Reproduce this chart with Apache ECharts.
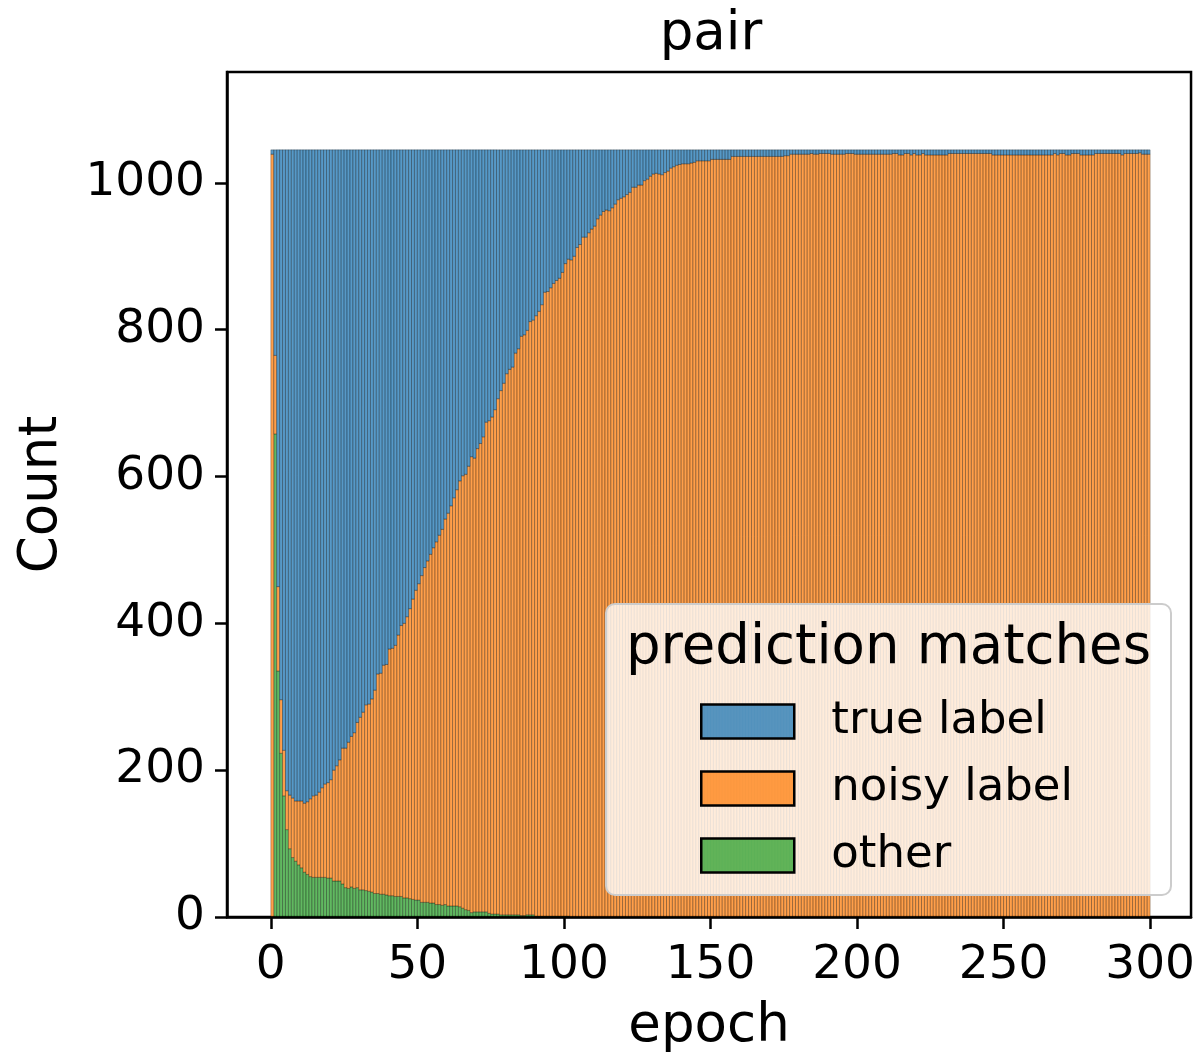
<!DOCTYPE html>
<html>
<head>
<meta charset="utf-8">
<title>pair</title>
<script src="https://cdn.jsdelivr.net/npm/echarts@6/dist/echarts.min.js"></script>
<style>
  html, body { margin: 0; padding: 0; background: #fff; }
  #chart { width: 1198px; height: 1059px; }
</style>
</head>
<body>
<div id="chart"></div>
<script>
// Per-epoch prediction counts, stacked: other (bottom), noisy label, true label (top)
const seriesNames = ['true label', 'noisy label', 'other'];
const xTicks = [0, 50, 100, 150, 200, 250, 300];
const yTicks = [0, 200, 400, 600, 800, 1000];

const other = [
  0, 658, 335, 223, 165, 119, 93, 81, 76, 71,
  67, 61, 58, 55, 54, 54, 54, 54, 54, 53,
  53, 49, 49, 49, 45, 40, 39, 41, 39, 40,
  37, 37, 36, 35, 34, 32, 32, 31, 31, 30,
  29, 29, 28, 28, 28, 26, 26, 25, 24, 23,
  23, 20, 20, 20, 19, 19, 17, 17, 16, 17,
  15, 15, 15, 15, 14, 12, 10, 9, 6, 7,
  7, 7, 7, 7, 5, 4, 4, 4, 3, 3,
  3, 3, 3, 3, 3, 2, 2, 3, 3, 3,
  1, 1, 1, 1, 1, 1, 1, 1, 1, 1,
  1, 1, 0, 0, 0, 0, 0, 0, 0, 0,
  0, 0, 0, 0, 0, 0, 0, 0, 0, 0,
  0, 0, 0, 0, 0, 0, 0, 0, 0, 0,
  0, 0, 0, 0, 0, 0, 0, 0, 0, 0,
  0, 0, 0, 0, 0, 0, 0, 0, 0, 0,
  0, 0, 0, 0, 0, 0, 0, 0, 0, 0,
  0, 0, 0, 0, 0, 0, 0, 0, 0, 0,
  0, 0, 0, 0, 0, 0, 0, 0, 0, 0,
  0, 0, 0, 0, 0, 0, 0, 0, 0, 0,
  0, 0, 0, 0, 0, 0, 0, 0, 0, 0,
  0, 0, 0, 0, 0, 0, 0, 0, 0, 0,
  0, 0, 0, 0, 0, 0, 0, 0, 0, 0,
  0, 0, 0, 0, 0, 0, 0, 0, 0, 0,
  0, 0, 0, 0, 0, 0, 0, 0, 0, 0,
  0, 0, 0, 0, 0, 0, 0, 0, 0, 0,
  0, 0, 0, 0, 0, 0, 0, 0, 0, 0,
  0, 0, 0, 0, 0, 0, 0, 0, 0, 0,
  0, 0, 0, 0, 0, 0, 0, 0, 0, 0,
  0, 0, 0, 0, 0, 0, 0, 0, 0, 0,
  0, 0, 0, 0, 0, 0, 0, 0, 0, 0
];

const noisy = [
  1039, 107, 115, 73, 62, 53, 73, 81, 82, 87,
  91, 94, 99, 106, 111, 112, 116, 122, 127, 130,
  134, 151, 157, 165, 185, 190, 199, 205, 212, 225,
  235, 242, 253, 255, 263, 277, 299, 301, 312, 314,
  336, 337, 342, 356, 369, 374, 383, 395, 409, 422,
  431, 445, 456, 465, 475, 484, 494, 503, 512, 525,
  535, 545, 556, 567, 580, 589, 593, 605, 621, 618,
  631, 638, 647, 667, 671, 677, 687, 702, 714, 724,
  737, 743, 746, 765, 771, 789, 791, 796, 808, 810,
  818, 824, 833, 850, 851, 856, 862, 866, 869, 877,
  889, 895, 895, 900, 912, 916, 926, 926, 932, 937,
  941, 951, 956, 961, 963, 962, 966, 971, 977, 979,
  981, 984, 987, 994, 994, 997, 997, 1003, 1005, 1009,
  1012, 1013, 1012, 1011, 1014, 1016, 1020, 1022, 1024, 1025,
  1026, 1026, 1026, 1027, 1028, 1030, 1030, 1030, 1030, 1030,
  1032, 1032, 1032, 1032, 1032, 1032, 1032, 1036, 1036, 1036,
  1036, 1036, 1036, 1036, 1036, 1036, 1036, 1036, 1036, 1036,
  1036, 1036, 1036, 1036, 1036, 1037, 1037, 1039, 1039, 1039,
  1039, 1039, 1039, 1039, 1040, 1039, 1039, 1040, 1040, 1040,
  1040, 1039, 1039, 1039, 1039, 1039, 1040, 1040, 1040, 1039,
  1039, 1039, 1039, 1039, 1039, 1039, 1039, 1039, 1039, 1039,
  1039, 1039, 1040, 1040, 1038, 1038, 1040, 1040, 1038, 1040,
  1038, 1038, 1040, 1038, 1038, 1038, 1038, 1038, 1038, 1038,
  1038, 1040, 1040, 1040, 1040, 1040, 1040, 1040, 1040, 1040,
  1040, 1040, 1040, 1040, 1040, 1040, 1038, 1038, 1038, 1038,
  1038, 1038, 1038, 1038, 1038, 1038, 1038, 1038, 1038, 1038,
  1038, 1038, 1038, 1038, 1038, 1038, 1038, 1040, 1038, 1040,
  1040, 1038, 1038, 1040, 1040, 1040, 1038, 1038, 1038, 1038,
  1038, 1040, 1040, 1040, 1040, 1040, 1040, 1040, 1040, 1040,
  1038, 1040, 1040, 1040, 1040, 1040, 1041, 1039, 1039, 1039
];

const trueLabel = [
  6, 280, 595, 749, 818, 873, 879, 883, 887, 887,
  887, 890, 888, 884, 880, 879, 875, 869, 864, 862,
  858, 845, 839, 831, 815, 815, 807, 799, 794, 780,
  773, 766, 756, 755, 748, 736, 714, 713, 702, 701,
  680, 679, 675, 661, 648, 645, 636, 625, 612, 600,
  591, 580, 569, 560, 551, 542, 534, 525, 517, 503,
  495, 485, 474, 463, 451, 444, 442, 431, 418, 420,
  407, 400, 391, 371, 369, 364, 354, 339, 328, 318,
  305, 299, 296, 277, 271, 254, 252, 246, 234, 232,
  226, 220, 211, 194, 193, 188, 182, 178, 175, 167,
  155, 149, 150, 145, 133, 129, 119, 119, 113, 108,
  104, 94, 89, 84, 82, 83, 79, 74, 68, 66,
  64, 61, 58, 51, 51, 48, 48, 42, 40, 36,
  33, 32, 33, 34, 31, 29, 25, 23, 21, 20,
  19, 19, 19, 18, 17, 15, 15, 15, 15, 15,
  13, 13, 13, 13, 13, 13, 13, 9, 9, 9,
  9, 9, 9, 9, 9, 9, 9, 9, 9, 9,
  9, 9, 9, 9, 9, 8, 8, 6, 6, 6,
  6, 6, 6, 6, 5, 6, 6, 5, 5, 5,
  5, 6, 6, 6, 6, 6, 5, 5, 5, 6,
  6, 6, 6, 6, 6, 6, 6, 6, 6, 6,
  6, 6, 5, 5, 7, 7, 5, 5, 7, 5,
  7, 7, 5, 7, 7, 7, 7, 7, 7, 7,
  7, 5, 5, 5, 5, 5, 5, 5, 5, 5,
  5, 5, 5, 5, 5, 5, 7, 7, 7, 7,
  7, 7, 7, 7, 7, 7, 7, 7, 7, 7,
  7, 7, 7, 7, 7, 7, 7, 5, 7, 5,
  5, 7, 7, 5, 5, 5, 7, 7, 7, 7,
  7, 5, 5, 5, 5, 5, 5, 5, 5, 5,
  7, 5, 5, 5, 5, 5, 4, 6, 6, 6
];

const epochs = other.map((_, i) => i);

const FONT = 'DejaVu Sans';
const colors = {
  'true label': 'rgba(31,119,180,0.75)',
  'noisy label': 'rgba(255,127,14,0.75)',
  'other': 'rgba(44,160,44,0.75)'
};

// Stack bottom-up: other, noisy label, true label
const layers = [
  { name: 'other', values: other },
  { name: 'noisy label', values: noisy },
  { name: 'true label', values: trueLabel }
];
const base = epochs.map(() => 0);
const series = layers.map(layer => {
  const data = epochs.map((e, i) => {
    const row = [e, layer.values[i], base[i]];
    base[i] += layer.values[i];
    return row;
  });
  return {
    type: 'custom',
    name: layer.name,
    data: data,
    encode: { x: 0, y: 1 },
    itemStyle: {
      color: colors[layer.name],
      borderColor: 'rgba(0,0,0,0.45)',
      borderWidth: 0.6
    },
    renderItem: function (params, api) {
      const e = api.value(0), v = api.value(1), b = api.value(2);
      if (!v) return null;
      const p0 = api.coord([e, b]);
      const p1 = api.coord([e + 1, b + v]);
      return {
        type: 'rect',
        shape: { x: p0[0], y: p1[1], width: p1[0] - p0[0], height: p0[1] - p1[1] },
        style: api.style()
      };
    }
  };
});

const chart = echarts.init(document.getElementById('chart'), null, { renderer: 'canvas' });
chart.setOption({
  animation: false,
  backgroundColor: '#fff',
  textStyle: { fontFamily: FONT },
  title: {
    text: 'pair',
    left: 706,
    textAlign: 'center',
    top: 4,
    textStyle: { fontFamily: FONT, fontSize: 53, fontWeight: 'normal', color: '#000' }
  },
  grid: {
    left: 227, right: 5, top: 72, bottom: 141,
    show: true, borderColor: '#000', borderWidth: 2.5, backgroundColor: '#fff'
  },
  xAxis: {
    type: 'value',
    min: -14.95, max: 313.95,
    z: 10,
    name: 'epoch',
    nameLocation: 'middle',
    nameGap: 84,
    nameTextStyle: { fontFamily: FONT, fontSize: 53, color: '#000' },
    axisLine: { show: true, onZero: false, lineStyle: { color: '#000', width: 2.5 } },
    axisTick: { show: true, inside: false, length: 12, lineStyle: { color: '#000', width: 2.5 }, customValues: xTicks },
    axisLabel: { fontFamily: FONT, fontSize: 47, color: '#000', margin: 25, customValues: xTicks },
    splitLine: { show: false }
  },
  yAxis: {
    type: 'value',
    min: 0, max: 1151,
    z: 10,
    name: 'Count',
    nameLocation: 'middle',
    nameGap: 158,
    nameTextStyle: { fontFamily: FONT, fontSize: 53, color: '#000' },
    axisLine: { show: true, onZero: false, lineStyle: { color: '#000', width: 2.5 } },
    axisTick: { show: true, inside: false, length: 12, lineStyle: { color: '#000', width: 2.5 }, customValues: yTicks },
    axisLabel: {
      fontFamily: FONT, fontSize: 47, color: '#000', margin: 22, customValues: yTicks,
      formatter: v => String(v)
    },
    splitLine: { show: false }
  },
  legend: {
    data: seriesNames,
    orient: 'vertical',
    left: 700,
    top: 699,
    z: 120,
    padding: 0,
    icon: 'rect',
    itemWidth: 93,
    itemHeight: 34,
    itemGap: 22,
    itemStyle: { borderColor: '#000', borderWidth: 2.5 },
    textStyle: { fontFamily: FONT, fontSize: 45, color: '#000', padding: [0, 0, 0, 32] },
    selectedMode: false
  },
  graphic: [
    {
      type: 'rect',
      z: 100,
      shape: { x: 606, y: 604, width: 565, height: 291, r: 9 },
      style: { fill: 'rgba(255,255,255,0.8)', stroke: '#cccccc', lineWidth: 2 }
    },
    {
      type: 'text',
      z: 110,
      x: 626,
      y: 649,
      style: {
        text: 'prediction matches',
        font: '54.5px "DejaVu Sans"',
        fill: '#000',
        textVerticalAlign: 'middle'
      }
    }
  ],
  series: series
});
</script>
</body>
</html>
